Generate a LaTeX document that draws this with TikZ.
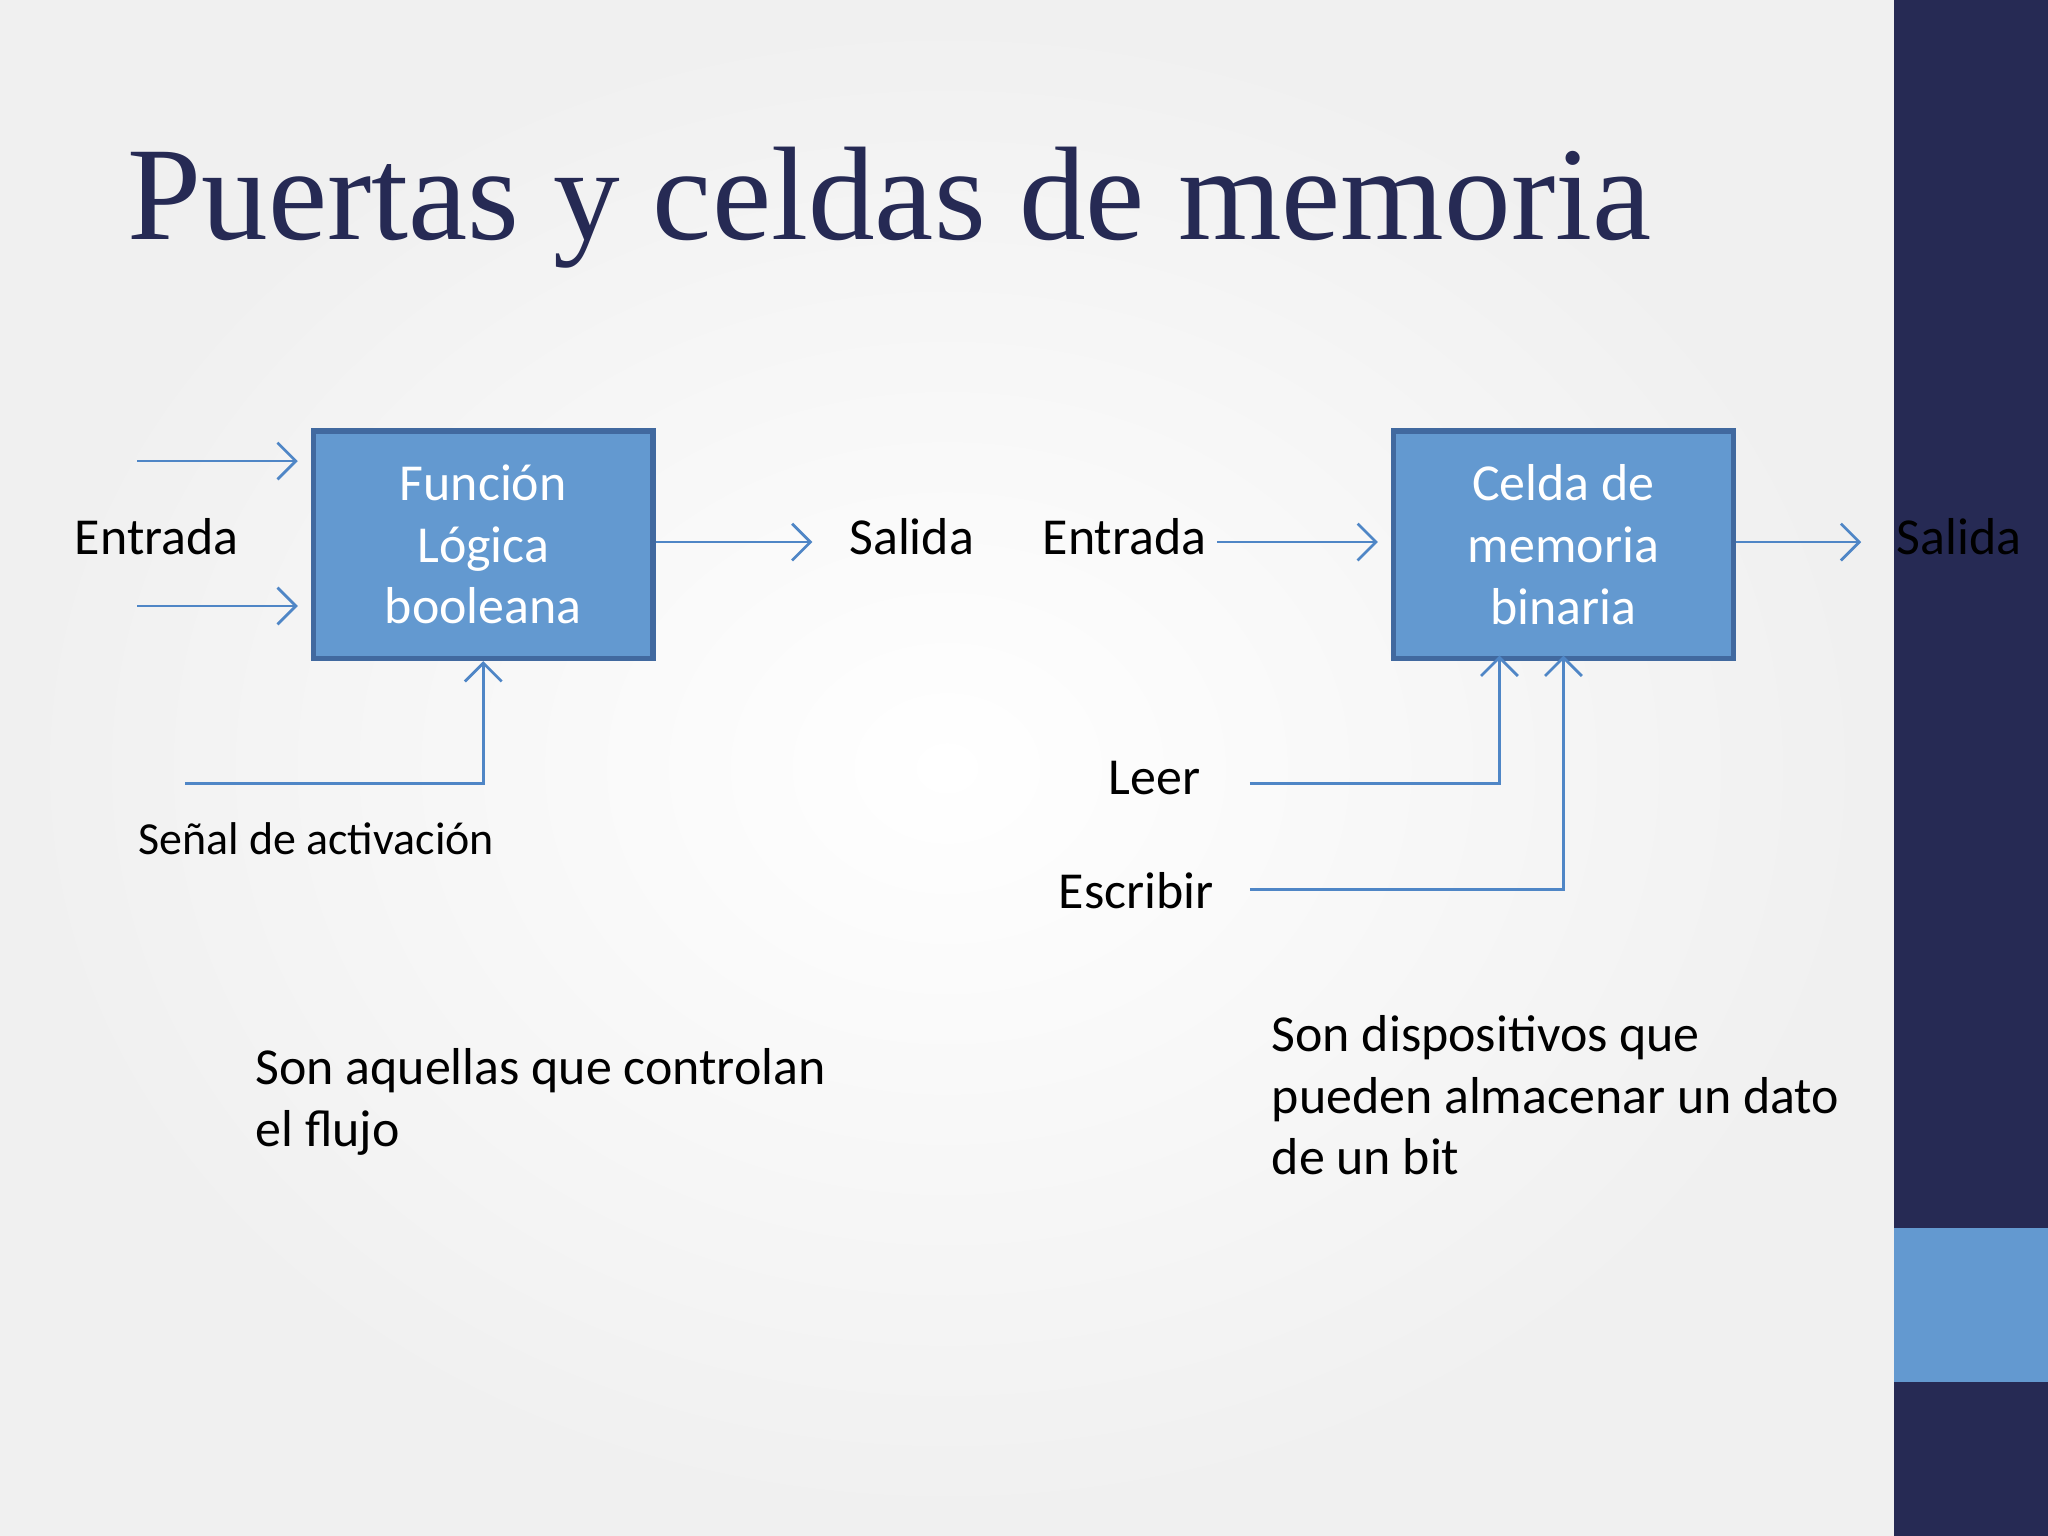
\documentclass[tikz,border=0pt]{standalone}
\usepackage{fontspec}
\setmainfont{Carlito}
\newfontfamily\titlefont{Liberation Serif}
\usetikzlibrary{arrows.meta}
\definecolor{navy}{HTML}{262A54}
\definecolor{boxfill}{HTML}{6399D0}
\definecolor{boxline}{HTML}{41699F}
\definecolor{arr}{HTML}{4F86C6}
\definecolor{titlec}{HTML}{262A54}
\begin{document}
\begin{tikzpicture}[x=0.01cm,y=-0.01cm,
  blk/.style={draw=boxline,line width=1.2pt,fill=boxfill,minimum width=2.6cm,minimum height=1.74cm,text=white,font=\fontsize{11.3}{13.4}\selectfont,align=center,inner sep=0pt},
  lbl/.style={font=\fontsize{11.3}{13}\selectfont,inner sep=0pt},
  conn/.style={draw=arr,line width=0.6pt},
  arw/.style={conn,-{Straight Barb[length=4pt,width=8pt]}}]
\useasboundingbox (0,0) rectangle (1568,1176);
\shade[inner color=white,outer color=gray!12] (0,0) rectangle (1450,1176);
\fill[navy] (1450,0) rectangle (1568,1176);
\fill[boxfill] (1450,940) rectangle (1568,1058);
\node[anchor=base west,inner sep=0pt,text=titlec,font=\titlefont\fontsize{29}{29}\selectfont] (title) at (97,183) {Puertas y celdas de memoria};
\node[blk] (f) at (370,417) {Función\\Lógica\\booleana};
\node[blk] (c) at (1197,417) {Celda de\\memoria\\binaria};
% left
\coordinate (a1) at (105,353); \coordinate (a1e) at (228,353);
\coordinate (a2) at (105,464); \coordinate (a2e) at (228,464);
\draw[arw] (a1) -- (a1e);
\draw[arw] (a2) -- (a2e);
\node[lbl] (e1) at (120,411) {Entrada};
\coordinate (fo) at (622,415);
\draw[arw] (f.east |- fo) -- (fo);
\node[lbl] (s1) at (698,411) {Salida};
\coordinate (sa) at (142,600);
\draw[arw] (sa) -- (370,600) -- (f.south);
\node[lbl,font=\fontsize{10}{10}\selectfont] (sn) at (242,642) {Señal de activación};
% right
\node[lbl] (e2) at (861,411) {Entrada};
\coordinate (ci) at (1055,415);
\draw[arw] (932,415) -- (ci);
\coordinate (co) at (1425,415);
\draw[arw] (c.east |- co) -- (co);
\node[lbl] (s2) at (1500,411) {Salida};
\node[lbl] (le) at (884,596) {Leer};
\node[lbl] (es) at (870,682) {Escribir};
\coordinate (lee) at (1148,502);
\coordinate (ese) at (1197,502);
\draw[arw] (957,600) -- (1148,600) -- (lee);
\draw[arw] (957,681) -- (1197,681) -- (ese);
\node[lbl,anchor=north west,align=left,font=\fontsize{11.3}{13.4}\selectfont] (p1) at (195,802) {Son aquellas que controlan\\el flujo};
\node[lbl,anchor=north west,align=left,font=\fontsize{11.3}{13.4}\selectfont] (p2) at (973,777) {Son dispositivos que\\pueden almacenar un dato\\de un bit};
\end{tikzpicture}
\end{document}
